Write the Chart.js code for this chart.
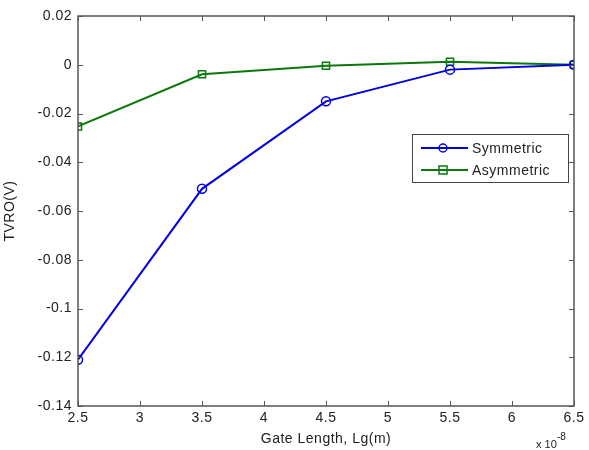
<!DOCTYPE html>
<html>
<head>
<meta charset="utf-8">
<script src="https://cdn.jsdelivr.net/npm/chart.js@4"></script>
<style>
  html, body { margin: 0; padding: 0; background: #fff; }
  #wrap { width: 589px; height: 450px; }
</style>
</head>
<body>
<div id="wrap"><canvas id="c" width="589" height="450"></canvas></div>
<script>
// Gate length in units of 1e-8 m
const gateLength = [2.5, 3.5, 4.5, 5.5, 6.5];
const symmetric = [-0.121, -0.0509, -0.0150, -0.0020, 0.0000];
const asymmetric = [-0.0253, -0.0039, -0.0004, 0.0012, 0.0000];
const xTicks = [2.5, 3, 3.5, 4, 4.5, 5, 5.5, 6, 6.5];
const yTicks = [0.02, 0, -0.02, -0.04, -0.06, -0.08, -0.1, -0.12, -0.14];

const FONT = 'Liberation Sans, Arial, sans-serif';
const TEXT = '#222';
const AXIS = '#555';

// MATLAB-style box with inward ticks, legend and exponent label
const matlabAxes = {
  id: 'matlabAxes',
  beforeDraw(chart) {
    // MATLAB text renders a bit looser than canvas text
    chart.ctx.letterSpacing = '0.5px';
  },
  afterDatasetsDraw(chart) {
    const { ctx, chartArea: a, scales } = chart;
    ctx.save();
    ctx.strokeStyle = AXIS;
    ctx.lineWidth = 1.5;
    ctx.strokeRect(a.left, a.top, a.right - a.left, a.bottom - a.top);
    ctx.lineWidth = 1;
    const len = 5;
    xTicks.forEach(v => {
      const x = Math.round(scales.x.getPixelForValue(v)) + 0.5;
      ctx.beginPath();
      ctx.moveTo(x, a.bottom); ctx.lineTo(x, a.bottom - len);
      ctx.moveTo(x, a.top); ctx.lineTo(x, a.top + len);
      ctx.stroke();
    });
    yTicks.forEach(v => {
      const y = Math.round(scales.y.getPixelForValue(v)) + 0.5;
      ctx.beginPath();
      ctx.moveTo(a.left, y); ctx.lineTo(a.left + len, y);
      ctx.moveTo(a.right, y); ctx.lineTo(a.right - len, y);
      ctx.stroke();
    });

    // legend
    const lx = 412, ly = 134, lw = 156, lh = 48;
    ctx.fillStyle = '#fff';
    ctx.fillRect(lx, ly, lw, lh);
    ctx.strokeStyle = '#444';
    ctx.lineWidth = 1;
    ctx.strokeRect(lx + 0.5, ly + 0.5, lw, lh);
    chart.data.datasets.forEach((ds, i) => {
      const y = ly + 14 + i * 22;
      ctx.strokeStyle = ds.borderColor;
      ctx.lineWidth = 2;
      ctx.beginPath();
      ctx.moveTo(lx + 9, y); ctx.lineTo(lx + 56, y);
      ctx.stroke();
      ctx.lineWidth = 1.5;
      ctx.beginPath();
      if (ds.pointStyle === 'rect') {
        ctx.rect(lx + 31 - 4, y - 4, 8, 8);
      } else {
        ctx.arc(lx + 31, y, 4, 0, Math.PI * 2);
      }
      ctx.stroke();
      ctx.fillStyle = TEXT;
      ctx.font = '14px ' + FONT;
      ctx.textBaseline = 'middle';
      ctx.textAlign = 'left';
      ctx.fillText(ds.label, lx + 60, y + 1);
    });

    // exponent label
    ctx.letterSpacing = '0px';
    ctx.fillStyle = TEXT;
    ctx.textBaseline = 'alphabetic';
    ctx.textAlign = 'left';
    ctx.font = '11px ' + FONT;
    ctx.fillText('x 10', 536, 448);
    ctx.font = '10px ' + FONT;
    ctx.fillText('-8', 557, 440);
    ctx.restore();
  }
};

new Chart(document.getElementById('c'), {
  type: 'line',
  data: {
    datasets: [
      {
        label: 'Symmetric',
        data: gateLength.map((x, i) => ({ x, y: symmetric[i] })),
        borderColor: '#0000e0',
        borderWidth: 2,
        pointStyle: 'circle',
        pointRadius: 4.5,
        pointBorderWidth: 1.5,
        pointBackgroundColor: 'rgba(0,0,0,0)',
        tension: 0
      },
      {
        label: 'Asymmetric',
        data: gateLength.map((x, i) => ({ x, y: asymmetric[i] })),
        borderColor: '#0a780a',
        borderWidth: 2,
        pointStyle: 'rect',
        pointRadius: 5,
        pointBorderWidth: 1.5,
        pointBackgroundColor: 'rgba(0,0,0,0)',
        tension: 0
      }
    ]
  },
  options: {
    responsive: false,
    animation: false,
    layout: { padding: { top: 16, right: 15, left: 0, bottom: 0 } },
    plugins: {
      legend: { display: false },
      tooltip: { enabled: false }
    },
    scales: {
      x: {
        type: 'linear',
        min: 2.5,
        max: 6.5,
        afterBuildTicks: s => { s.ticks = xTicks.map(v => ({ value: v })); },
        afterFit: s => { s.height = 44; },
        grid: { display: false, drawTicks: false },
        border: { display: false },
        ticks: {
          padding: 4,
          color: TEXT,
          font: { family: FONT, size: 14 },
          maxRotation: 0,
          callback: v => String(v)
        },
        title: {
          display: true,
          text: 'Gate Length, Lg(m)',
          color: TEXT,
          font: { family: FONT, size: 14 },
          padding: { top: 0, bottom: 2 }
        }
      },
      y: {
        type: 'linear',
        min: -0.14,
        max: 0.02,
        afterBuildTicks: s => { s.ticks = yTicks.map(v => ({ value: v })); },
        afterFit: s => { s.width = 78; },
        grid: { display: false, drawTicks: false },
        border: { display: false },
        ticks: {
          padding: 6,
          color: TEXT,
          font: { family: FONT, size: 14 },
          callback: v => String(Math.round(v * 100) / 100)
        },
        title: {
          display: true,
          text: 'TVRO(V)',
          color: TEXT,
          font: { family: FONT, size: 14 },
          padding: { top: 2, bottom: 0 }
        }
      }
    }
  },
  plugins: [matlabAxes]
});
</script>
</body>
</html>
